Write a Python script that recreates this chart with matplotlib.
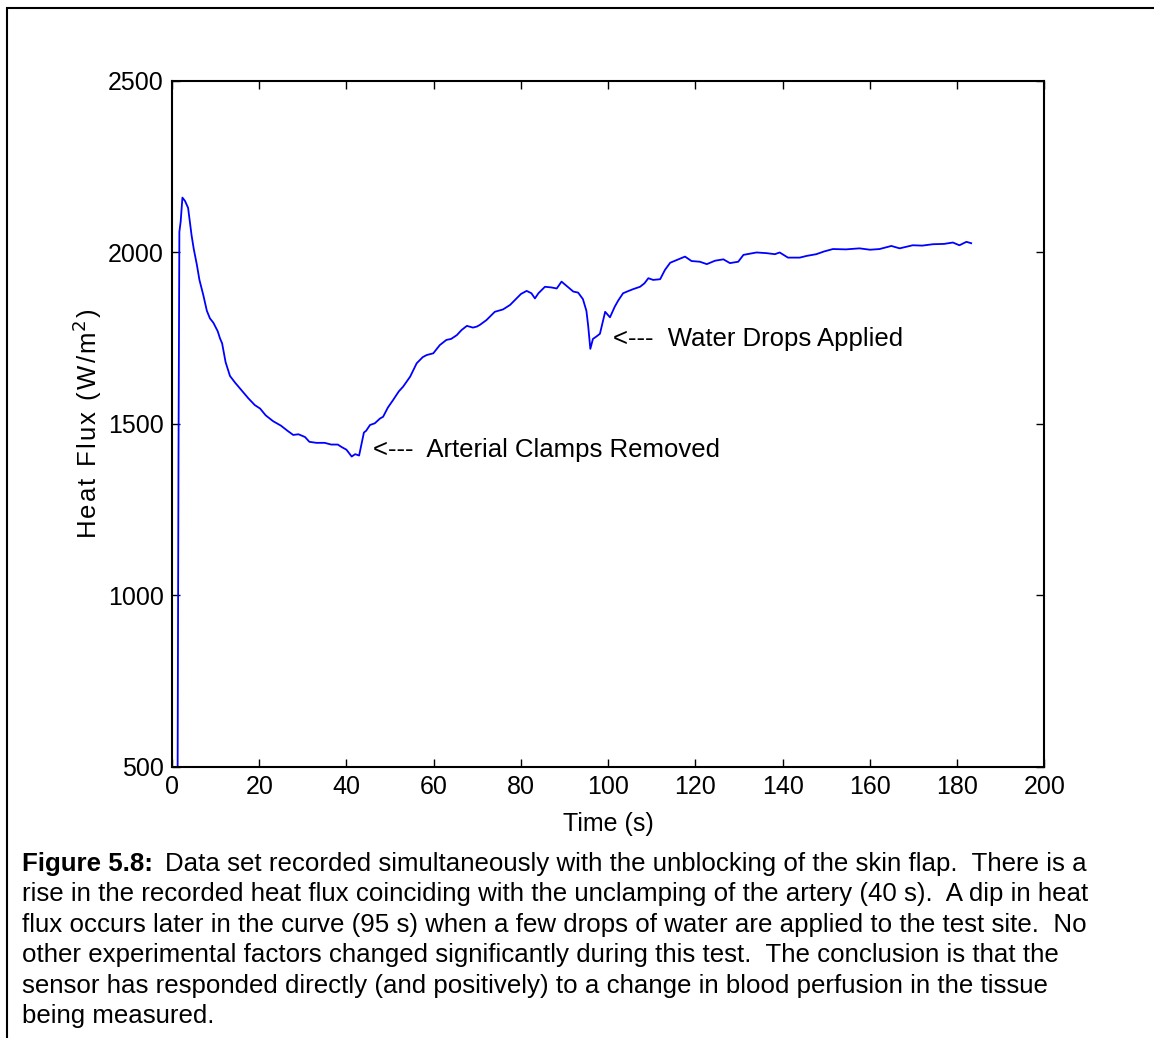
import matplotlib.pyplot as plt
from matplotlib.patches import Rectangle

# Heat flux recorded while the skin flap is unblocked

time_s = [1.3, 1.5, 1.7, 2.0, 2.4, 3.0, 3.7, 4.0, 4.5, 5.0, 5.7, 6.3, 7.2, 8.0, 8.7,
          9.5, 10.5, 11.0, 11.5, 12.3, 13.3, 14.5, 15.5, 16.3, 17.5, 19.0, 20.2, 21.5,
          23.2, 25.0, 26.5, 27.8, 29.0, 30.5, 31.5, 33.1, 35.0, 36.5, 38.0, 39.0, 40.0,
          41.2, 42.0, 42.9, 44.0, 44.5, 45.4, 46.5, 47.7, 48.4, 49.5, 50.7, 52.0, 53.0,
          54.6, 56.1, 57.5, 58.4, 59.9, 61.4, 62.9, 64.0, 65.3, 66.4, 67.6, 69.0, 69.9,
          70.6, 72.1, 74.0, 75.9, 77.5, 79.0, 80.0, 81.3, 82.4, 83.2, 84.0, 85.5, 87.0,
          88.2, 89.3, 90.5, 92.0, 93.1, 94.2, 95.0, 95.4, 95.9, 96.5, 97.3, 98.1, 98.8,
          99.3, 100.4, 101.5, 102.3, 103.4, 104.5, 105.7, 107.3, 108.3, 109.2, 110.3,
          111.9, 113.0, 114.2, 116.1, 117.6, 119.1, 121.0, 122.6, 124.5, 126.4, 127.9,
          129.8, 131.0, 134.0, 136.3, 138.2, 139.3, 141.2, 143.9, 145.5, 147.7, 149.5,
          151.5, 154.5, 157.6, 160.0, 162.2, 164.9, 166.8, 169.8, 172.0, 174.4, 177.0,
          179.0, 180.5, 182.1, 183.2]

heat_flux = [480, 1400, 2060, 2090, 2160, 2150, 2130, 2100, 2050, 2010, 1965, 1920, 1875,
             1830, 1808, 1795, 1770, 1750, 1735, 1680, 1640, 1620, 1605, 1593, 1575, 1555,
             1545, 1525, 1508, 1495, 1480, 1468, 1470, 1462, 1448, 1445, 1445, 1440, 1440,
             1432, 1425, 1405, 1412, 1408, 1475, 1480, 1497, 1502, 1516, 1521, 1548, 1570,
             1595, 1609, 1638, 1677, 1695, 1701, 1706, 1730, 1745, 1748, 1759, 1774, 1786,
             1781, 1784, 1789, 1803, 1827, 1834, 1847, 1866, 1879, 1888, 1881, 1866, 1881,
             1900, 1898, 1895, 1915, 1902, 1886, 1883, 1864, 1830, 1787, 1719, 1748, 1755,
             1763, 1800, 1827, 1811, 1842, 1860, 1881, 1887, 1893, 1900, 1910, 1925, 1920,
             1922, 1949, 1970, 1980, 1988, 1975, 1973, 1966, 1976, 1980, 1969, 1973, 1993,
             2000, 1998, 1995, 2000, 1985, 1985, 1990, 1995, 2003, 2010, 2009, 2012, 2008,
             2010, 2019, 2012, 2021, 2020, 2024, 2025, 2029, 2021, 2031, 2027]

x_ticks = [0, 20, 40, 60, 80, 100, 120, 140, 160, 180, 200]
y_ticks = [500, 1000, 1500, 2000, 2500]

caption_lines = [
    "Data set recorded simultaneously with the unblocking of the skin flap.  There is a",
    "rise in the recorded heat flux coinciding with the unclamping of the artery (40 s).  A dip in heat",
    "flux occurs later in the curve (95 s) when a few drops of water are applied to the test site.  No",
    "other experimental factors changed significantly during this test.  The conclusion is that the",
    "sensor has responded directly (and positively) to a change in blood perfusion in the tissue",
    "being measured.",
]

plt.rcParams['font.family'] = ['Liberation Sans', 'DejaVu Sans']

fig = plt.figure(figsize=(11.54, 10.38), dpi=100)
ax = fig.add_axes([0.149, 0.2611, 0.7561, 0.6609])

ax.plot(time_s, heat_flux, color='#0000ff', linewidth=1.3)

ax.set_xlim(0, 200)
ax.set_ylim(500, 2500)
ax.set_xticks(x_ticks)
ax.set_yticks(y_ticks)
ax.tick_params(direction='in', length=6, width=1, labelsize=18, pad=6,
               top=True, right=True)
for s in ax.spines.values():
    s.set_linewidth(1.5)

ax.set_xlabel('Time (s)', fontsize=18, labelpad=9)
# slightly spaced-out letters for the y label
hair = '\u200a'
ax.set_ylabel(hair.join('Heat Flux (W/m') + '$^2$' + hair + ')', fontsize=18.5, labelpad=3)

ax.text(46.1, 1424, '<---  Arterial Clamps Removed', fontsize=18.5, va='center')
ax.text(101.1, 1748, '<---  Water Drops Applied', fontsize=18.5, va='center')

# caption underneath, bold figure number then the text
x0 = 22 / 1154
top0 = 852
fig_num = fig.text(x0, 1 - top0 / 1038, 'Figure 5.8:', fontsize=18.6, fontweight='bold', va='top')
r = fig.canvas.get_renderer()
bb = fig_num.get_window_extent(renderer=r)
fig.text((bb.x1 + 12) / 1154, 1 - top0 / 1038, caption_lines[0], fontsize=18.6, va='top')
for i, line in enumerate(caption_lines[1:], start=1):
    fig.text(x0, 1 - (top0 + 30.4 * i) / 1038, line, fontsize=18.6, va='top')

# page frame
fig.patches.append(Rectangle((7 / 1154, -0.1), 1.2, 1.1 - 8 / 1038, transform=fig.transFigure,
                             fill=False, edgecolor='black', linewidth=1.5))

plt.savefig('out.png', dpi=100)
